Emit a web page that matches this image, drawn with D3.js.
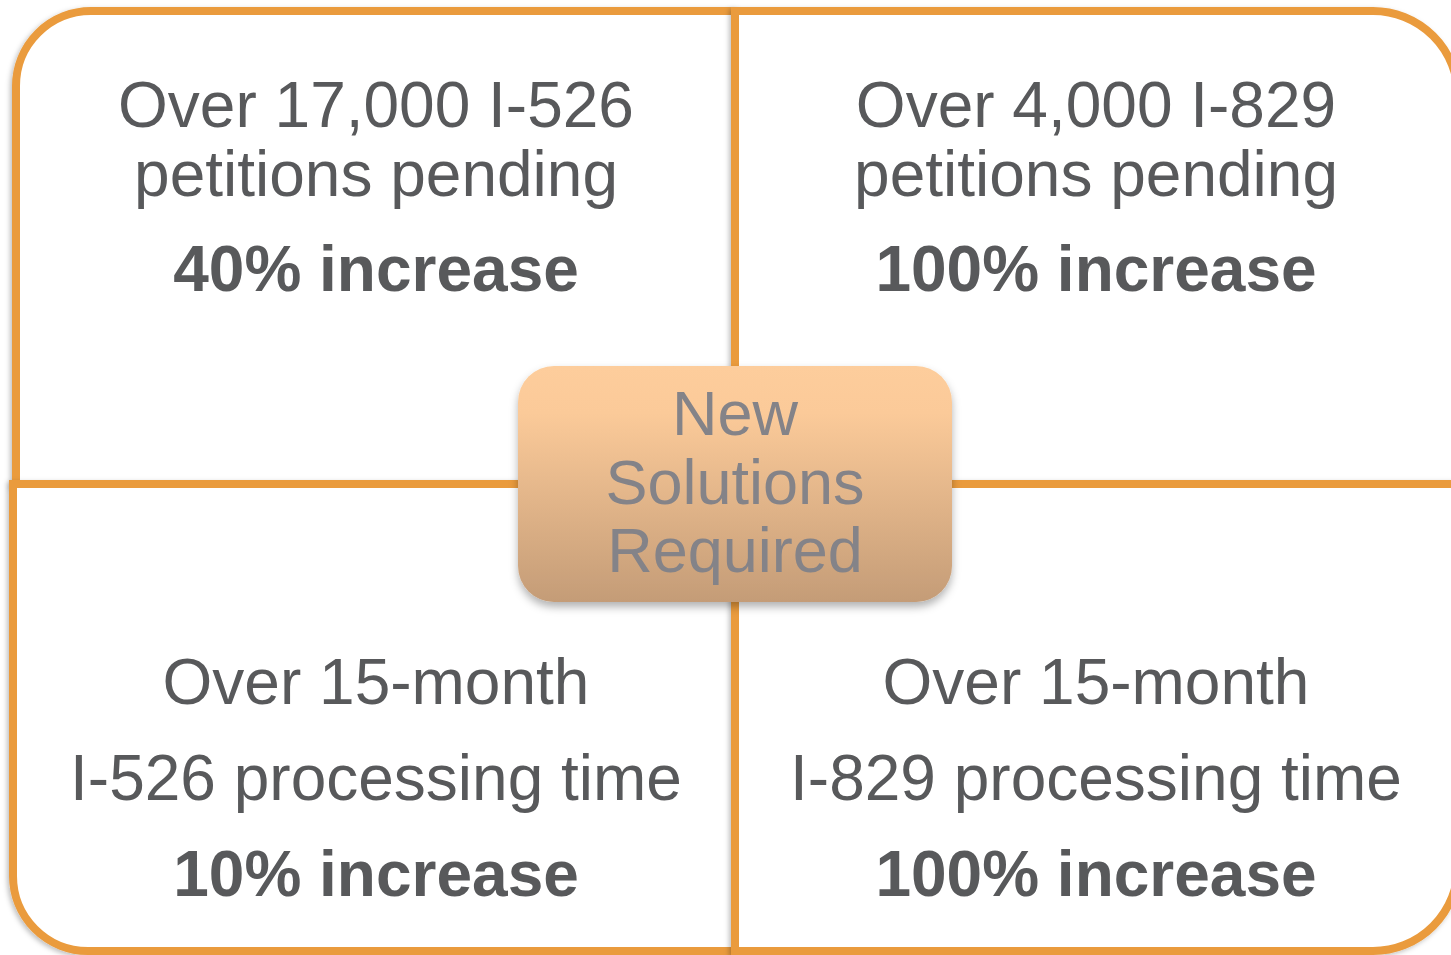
<!DOCTYPE html>
<html>
<head>
<meta charset="utf-8">
<script src="https://d3js.org/d3.v7.min.js"></script>
<style>
  body { margin: 0; background: #fff; }
  svg { display: block; }
</style>
</head>
<body>
<div id="my_dataviz"></div>
<script>
// quadrant texts (top-left, top-right, bottom-left, bottom-right)
var quadIds = ["tl", "tr", "bl", "br"];
var line1 = ["Over 17,000 I-526", "Over 4,000 I-829", "Over 15-month", "Over 15-month"];
var line2 = ["petitions pending", "petitions pending", "I-526 processing time", "I-829 processing time"];
var increases = ["40% increase", "100% increase", "10% increase", "100% increase"];
var centerLines = ["New", "Solutions", "Required"];

var width = 1451, height = 955;
var orange = "#ea9b3d", textGrey = "#58595b";

var svg = d3.select("#my_dataviz")
    .append("svg")
    .attr("width", width)
    .attr("height", height);

var defs = svg.append("defs");
var sh = defs.append("filter").attr("id", "shadow")
    .attr("x", "-10%").attr("y", "-10%").attr("width", "120%").attr("height", "120%");
sh.append("feDropShadow").attr("dx", -2).attr("dy", 2).attr("stdDeviation", 2.5)
    .attr("flood-color", "#000").attr("flood-opacity", 0.25);

var sh2 = defs.append("filter").attr("id", "shadow2")
    .attr("x", "-10%").attr("y", "-10%").attr("width", "120%").attr("height", "130%");
sh2.append("feDropShadow").attr("dx", 0).attr("dy", 5).attr("stdDeviation", 4)
    .attr("flood-color", "#000").attr("flood-opacity", 0.3);

var grad = defs.append("linearGradient").attr("id", "boxgrad")
    .attr("x1", 0).attr("y1", 0).attr("x2", 0).attr("y2", 1);
grad.append("stop").attr("offset", "0%").attr("stop-color", "#fdcd9c");
grad.append("stop").attr("offset", "20%").attr("stop-color", "#fbca99");
grad.append("stop").attr("offset", "100%").attr("stop-color", "#c49c77");

// grid scales
var col = d3.scaleOrdinal().domain(["l", "r"]).range([[16, 735], [735, 1458]]);
var row = d3.scaleOrdinal().domain(["t", "b"]).range([[11, 484], [484, 951]]);

var quads = quadIds.map(function(id, i) {
  return {
    id: id,
    x: id[1] === "l" ? [id === "bl" ? 13 : 16, 735] : col("r"),
    y: row(id[0]),
    l1: line1[i], l2: line2[i], inc: increases[i]
  };
});

function quadPath(d) {
  var x0 = d.x[0], x1 = d.x[1], y0 = d.y[0], y1 = d.y[1];
  var R = d.id[1] === "l" ? 75 : 85;
  var p = d3.path();
  if (d.id === "tl") {
    p.moveTo(x0, y0 + R); p.arcTo(x0, y0, x0 + R, y0, R);
    p.lineTo(x1, y0); p.lineTo(x1, y1); p.lineTo(x0, y1); p.closePath();
  } else if (d.id === "tr") {
    p.moveTo(x0, y0); p.lineTo(x1 - R, y0); p.arcTo(x1, y0, x1, y0 + R, R);
    p.lineTo(x1, y1); p.lineTo(x0, y1); p.closePath();
  } else if (d.id === "bl") {
    p.moveTo(x0, y0); p.lineTo(x1, y0); p.lineTo(x1, y1);
    p.lineTo(x0 + R, y1); p.arcTo(x0, y1, x0, y1 - R, R); p.closePath();
  } else {
    p.moveTo(x0, y0); p.lineTo(x1, y0); p.lineTo(x1, y1 - R);
    p.arcTo(x1, y1, x1 - R, y1, R); p.lineTo(x0, y1); p.closePath();
  }
  return p.toString();
}

svg.selectAll(".quad")
    .data(quads)
    .enter()
    .append("path")
    .attr("class", "quad")
    .attr("d", quadPath)
    .attr("fill", "#fff")
    .attr("stroke", orange)
    .attr("stroke-width", 8)
    .attr("stroke-linejoin", "miter")
    .attr("filter", "url(#shadow)");

// text baselines for top and bottom rows
var baseTop = [127, 196, 291], baseBot = [704, 800, 896];
var centers = {l: 376, r: 1096};

var tg = svg.selectAll(".qtext")
    .data(quads)
    .enter()
    .append("g")
    .attr("class", "qtext")
    .style("font-family", "'Liberation Sans', Arial, sans-serif")
    .style("font-size", "64px")
    .attr("fill", textGrey)
    .attr("text-anchor", "middle");

tg.each(function(d) {
  var g = d3.select(this);
  var cx = centers[d.id[1]];
  var b = d.id[0] === "t" ? baseTop : baseBot;
  g.append("text").attr("x", cx).attr("y", b[0]).text(d.l1);
  g.append("text").attr("x", cx).attr("y", b[1]).text(d.l2);
  g.append("text").attr("x", cx).attr("y", b[2])
      .style("font-weight", "bold").text(d.inc);
});

// center box
var box = {x: 518, y: 366, w: 434, h: 236};
svg.append("rect")
    .attr("x", box.x).attr("y", box.y)
    .attr("width", box.w).attr("height", box.h)
    .attr("rx", 36).attr("ry", 36)
    .attr("fill", "url(#boxgrad)")
    .attr("filter", "url(#shadow2)");

svg.selectAll(".ctext")
    .data(centerLines)
    .enter()
    .append("text")
    .attr("class", "ctext")
    .attr("x", box.x + box.w / 2)
    .attr("y", function(d, i) { return 435 + i * 68.5; })
    .attr("text-anchor", "middle")
    .style("font-family", "'Liberation Sans', Arial, sans-serif")
    .style("font-size", "63px")
    .attr("fill", "#848388")
    .text(function(d) { return d; });
</script>
</body>
</html>
